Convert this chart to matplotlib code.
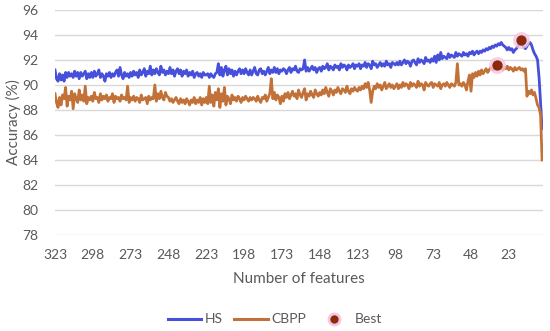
import numpy as np
import matplotlib
matplotlib.use("Agg")
import matplotlib.pyplot as plt
from matplotlib.lines import Line2D

plt.rcParams['font.family'] = ['Lato', 'DejaVu Sans']

# number of features, from 323 down to 1
features = np.arange(323, 0, -1)

# HS accuracy (%), rows of 25 features (323-299, 298-274, ...), last row 23-1
hs = [
    91.2, 90.5, 90.3, 90.9, 90.4, 90.8, 90.3, 91.0, 90.6, 91.0, 90.7, 90.9, 90.6, 91.1, 90.7, 91.0, 90.5, 91.0, 90.7, 90.9, 91.1, 90.5, 90.9, 90.6, 91.0,
    90.6, 91.1, 90.7, 90.9, 91.2, 90.6, 90.9, 90.7, 90.3, 90.9, 90.7, 91.0, 90.6, 90.9, 90.7, 91.0, 91.2, 90.7, 91.4, 90.8, 90.5, 91.0, 90.7, 90.9, 90.6,
    91.0, 90.7, 91.1, 90.8, 91.0, 90.6, 91.2, 90.8, 91.0, 91.3, 90.7, 91.1, 90.9, 91.5, 90.8, 91.2, 90.9, 91.3, 91.0, 90.8, 91.5, 91.0, 91.2, 90.8, 91.1,
    90.9, 91.4, 90.9, 91.2, 90.7, 91.1, 91.3, 90.9, 91.2, 90.7, 91.1, 90.9, 91.2, 90.7, 91.0, 90.8, 91.1, 90.6, 90.9, 91.0, 90.7, 90.9, 90.6, 91.0, 90.8,
    90.8, 90.9, 90.6, 90.9, 90.7, 90.6, 90.9, 91.0, 91.7, 90.8, 91.4, 90.7, 91.2, 91.5, 90.8, 91.3, 90.9, 91.2, 90.7, 91.1, 90.8, 91.1, 91.3, 90.9, 91.2,
    90.9, 91.3, 91.0, 90.8, 91.2, 90.8, 91.1, 91.4, 90.9, 90.8, 91.2, 91.3, 90.9, 91.1, 90.8, 91.1, 91.4, 90.9, 91.2, 91.0, 91.4, 91.0, 91.3, 90.9, 91.2,
    91.1, 91.3, 91.2, 90.9, 91.2, 91.4, 91.0, 91.3, 91.2, 91.5, 91.1, 91.0, 91.3, 91.2, 91.3, 92.0, 91.1, 91.4, 91.1, 91.3, 91.5, 91.2, 91.4, 91.0, 91.3,
    91.4, 91.1, 91.5, 91.3, 91.4, 91.7, 91.2, 91.5, 91.4, 91.2, 91.6, 91.4, 91.5, 91.2, 91.7, 91.4, 91.6, 91.5, 91.2, 91.6, 91.4, 91.5, 91.7, 91.3, 91.6,
    91.5, 91.7, 91.3, 91.6, 91.5, 91.8, 91.4, 91.7, 91.6, 91.3, 91.9, 91.6, 91.7, 91.4, 91.6, 91.8, 91.5, 91.7, 91.5, 91.9, 91.6, 91.7, 91.4, 91.8, 91.7,
    91.6, 91.8, 91.6, 91.9, 91.6, 91.8, 92.0, 91.7, 91.9, 91.8, 91.5, 91.9, 92.0, 91.8, 91.6, 92.1, 91.8, 92.0, 91.9, 91.7, 92.2, 91.9, 92.0, 91.8, 92.1,
    91.9, 92.3, 91.8, 92.4, 92.0, 92.6, 92.1, 92.3, 92.2, 92.1, 92.5, 92.2, 92.4, 92.3, 92.2, 92.6, 92.3, 92.5, 92.4, 92.3, 92.6, 92.4, 92.5, 92.3, 92.6,
    92.5, 92.7, 92.4, 92.6, 92.7, 92.5, 92.7, 92.6, 92.8, 92.7, 92.9, 92.8, 93.0, 92.9, 93.1, 93.0, 93.2, 93.1, 93.3, 93.2, 93.4, 93.2, 93.1, 93.0, 92.8,
    93.0, 92.8, 92.9, 92.6, 92.8, 92.9, 93.1, 93.3, 93.6, 93.2, 93.0, 92.9, 93.1, 93.3, 93.4, 93.2, 92.8, 92.5, 92.3, 92.0, 90.6, 88.6, 86.5,
]

# CBPP accuracy (%), same layout
cbpp = [
    89.3, 88.6, 88.2, 89.0, 88.4, 89.2, 88.9, 89.8, 88.3, 89.1, 88.8, 89.5, 88.1, 89.3, 88.9, 88.6, 89.6, 88.8, 89.2, 88.7, 89.9, 88.5, 89.0, 88.8, 89.1,
    88.7, 89.4, 88.9, 89.0, 88.6, 89.3, 88.8, 89.1, 88.9, 89.2, 88.7, 89.0, 88.9, 89.3, 88.6, 89.1, 88.9, 89.0, 88.7, 89.2, 88.9, 89.0, 88.8, 89.9, 88.6,
    89.0, 88.8, 89.1, 88.7, 89.0, 88.9, 88.6, 89.2, 88.8, 88.9, 89.0, 88.5, 89.1, 88.8, 89.0, 88.9, 90.0, 88.7, 89.3, 88.9, 89.5, 89.0, 88.8, 89.4, 89.1,
    89.0, 88.7, 88.9, 88.6, 88.8, 89.0, 88.7, 88.5, 88.9, 88.6, 88.8, 88.5, 88.9, 88.7, 88.4, 88.8, 88.6, 89.0, 88.5, 88.8, 88.6, 89.0, 88.4, 88.9, 88.6,
    89.0, 88.5, 89.9, 88.6, 89.2, 88.3, 89.4, 88.8, 89.7, 88.2, 89.3, 88.7, 89.8, 88.4, 89.1, 88.9, 88.5, 89.2, 88.8, 89.0, 88.7, 89.1, 88.9, 88.6, 89.0,
    88.8, 89.1, 88.9, 88.7, 89.0, 88.8, 89.0, 88.9, 88.7, 89.1, 88.8, 88.6, 89.0, 88.9, 89.2, 88.7, 89.0, 89.3, 90.5, 88.9, 89.4, 88.8, 89.2, 89.0, 88.5,
    89.1, 88.7, 89.3, 89.0, 89.4, 88.9, 89.2, 89.5, 89.1, 89.3, 88.9, 89.6, 89.2, 89.0, 89.4, 89.7, 88.8, 89.3, 89.1, 89.5, 89.2, 89.0, 89.6, 89.3, 89.1,
    89.4, 89.2, 89.6, 89.3, 89.8, 89.4, 89.1, 89.7, 89.5, 89.2, 89.6, 89.4, 89.8, 89.5, 89.3, 89.7, 89.6, 89.4, 89.9, 89.5, 89.3, 89.7, 89.5, 89.8, 89.6,
    89.5, 89.8, 89.6, 89.9, 89.7, 90.1, 89.8, 90.2, 89.6, 88.6, 89.5, 89.9, 89.7, 90.1, 89.8, 90.0, 89.6, 89.9, 90.2, 89.7, 89.9, 90.1, 89.8, 90.0, 89.7,
    89.9, 90.1, 89.7, 90.0, 89.8, 90.2, 89.9, 90.1, 90.0, 89.7, 90.2, 89.9, 90.1, 90.0, 89.8, 90.3, 89.9, 90.1, 90.0, 89.6, 90.2, 90.0, 89.9, 90.1, 90.2,
    89.8, 90.1, 90.0, 89.9, 90.2, 89.7, 90.0, 90.1, 89.9, 90.2, 90.0, 89.8, 90.1, 90.0, 89.9, 90.2, 91.7, 90.0, 90.1, 89.9, 90.2, 90.0, 89.6, 90.3, 90.8,
    89.5, 90.9, 90.6, 91.0, 90.7, 91.1, 90.8, 91.2, 90.9, 91.1, 91.3, 91.0, 91.2, 91.4, 91.3, 91.2, 91.3, 91.6, 91.4, 91.3, 91.5, 91.2, 91.4, 91.3, 91.5,
    91.2, 91.4, 91.3, 91.1, 91.4, 91.2, 91.3, 91.4, 91.2, 91.3, 91.1, 91.3, 89.1, 89.5, 89.3, 89.6, 89.2, 89.4, 88.9, 88.4, 88.2, 87.6, 84.0,
]

# best points
best_features = [15, 31]
best_values = [93.6, 91.6]

x_ticks = [323, 298, 273, 248, 223, 198, 173, 148, 123, 98, 73, 48, 23]
y_ticks = [78, 80, 82, 84, 86, 88, 90, 92, 94, 96]

assert len(hs) == len(features) and len(cbpp) == len(features)

blue = '#4650db'
orange = '#c27238'
best_col = '#8c2a0c'

fig = plt.figure(figsize=(5.5, 3.31), dpi=100)
ax = fig.add_axes([0.1, 0.29, 0.887, 0.68])

ax.plot(features, hs, color=blue, lw=2.0, zorder=3)
ax.plot(features, cbpp, color=orange, lw=2.0, zorder=3)
ax.scatter(best_features, best_values, s=150, color='#f7c6e4', alpha=0.8, zorder=4, linewidths=0)
ax.scatter(best_features, best_values, s=55, color=best_col, zorder=5, linewidths=0)

ax.set_xlim(323, 0.5)
ax.set_ylim(78, 96)
ax.set_xticks(x_ticks)
ax.set_yticks(y_ticks)
ax.tick_params(length=0, labelsize=10, colors='#595959')
ax.tick_params(axis='y', pad=12)
ax.tick_params(axis='x', pad=10)
ax.grid(axis='y', color='#d9d9d9', lw=1)
ax.set_axisbelow(True)
for s in ax.spines.values():
    s.set_visible(False)

ax.set_xlabel('Number of features', fontsize=11, color='#595959', labelpad=8)
ax.set_ylabel('Accuracy (%)', fontsize=11, color='#595959', labelpad=1)

handles = [
    Line2D([], [], color=blue, lw=2.2),
    Line2D([], [], color=orange, lw=2.2),
    Line2D([], [], ls='', marker='o', markersize=8, color=best_col,
           markeredgecolor='#f7c6e4', markeredgewidth=2),
]
fig.legend(handles, ['HS', 'CBPP', 'Best'], loc='center', bbox_to_anchor=(0.5, 0.035),
           ncol=3, frameon=False, fontsize=10, labelcolor='#595959',
           handlelength=2.4, columnspacing=0.8, handletextpad=0.3)

fig.savefig('out.png', dpi=100)
